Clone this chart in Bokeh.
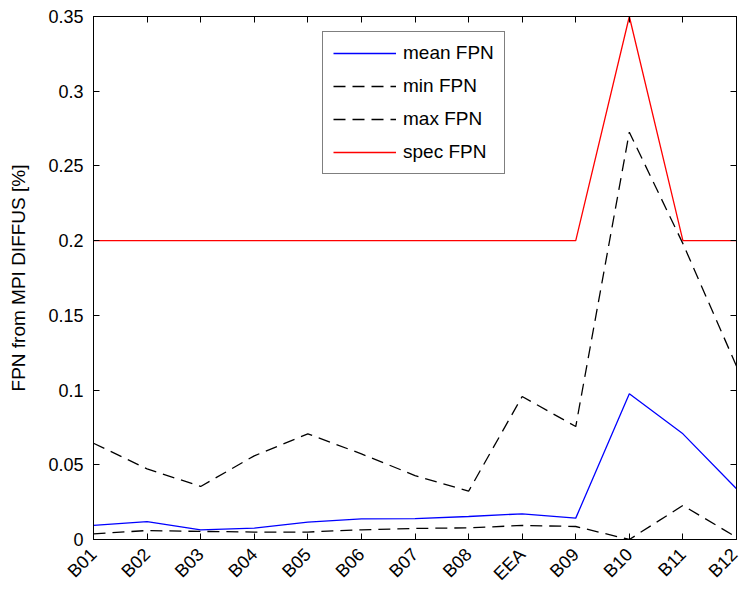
import math
from bokeh.plotting import figure
from bokeh.models import (Range1d, FixedTicker, LinearAxis, Legend, LegendItem,
                          CustomLabelingPolicy)
from bokeh.embed import file_html
from bokeh.resources import INLINE

categories = ["B01", "B02", "B03", "B04", "B05", "B06", "B07", "B08", "EEA", "B09", "B10", "B11", "B12"]
mean_fpn = [0.0094, 0.0120, 0.0065, 0.0076, 0.0116, 0.0138, 0.0140, 0.0154, 0.0172, 0.0143, 0.0975, 0.0707, 0.0340]
min_fpn = [0.0038, 0.0060, 0.0054, 0.0050, 0.0050, 0.0065, 0.0074, 0.0078, 0.0094, 0.0087, 0.0000, 0.0228, 0.0015]
max_fpn = [0.0644, 0.0473, 0.0355, 0.0560, 0.0707, 0.0573, 0.0428, 0.0323, 0.0957, 0.0756, 0.2726, 0.1980, 0.1160]
spec_fpn = [0.20, 0.20, 0.20, 0.20, 0.20, 0.20, 0.20, 0.20, 0.20, 0.20, 0.35, 0.20, 0.20]
y_ticks = [0.0, 0.05, 0.1, 0.15, 0.2, 0.25, 0.3, 0.35]
y_tick_labels = ["0", "0.05", "0.1", "0.15", "0.2", "0.25", "0.3", "0.35"]
y_label = "FPN from MPI DIFFUS [%]"
legend_labels = ["mean FPN", "min FPN", "max FPN", "spec FPN"]

FONT = "Liberation Sans"
FS = "18px"
FS_BIG = "19px"
LW = 1.3

n = len(categories)
x = list(range(n))

p = figure(width=741, height=595, output_backend="svg", toolbar_location=None,
           x_range=Range1d(0, n - 1), y_range=Range1d(0, 0.35),
           min_border_left=93, min_border_right=5, min_border_top=16, min_border_bottom=56,
           background_fill_color="white", border_fill_color="white")
p.outline_line_color = "black"
p.outline_line_width = 1
p.xgrid.visible = False
p.ygrid.visible = False

r_mean = p.line(x, mean_fpn, line_color="#0000ff", line_width=LW)
r_min = p.line(x, min_fpn, line_color="black", line_width=LW, line_dash="12 7")
r_max = p.line(x, max_fpn, line_color="black", line_width=LW, line_dash="12 7")
r_spec = p.line(x, spec_fpn, line_color="#ff0000", line_width=LW)

xt = FixedTicker(ticks=x)
yt = FixedTicker(ticks=y_ticks)


def no_labels():
    return CustomLabelingPolicy(code="return []")


xa = p.xaxis[0]
xa.ticker = xt
xa.major_label_overrides = {i: c for i, c in enumerate(categories)}
xa.major_label_orientation = math.pi / 4
xa.major_label_text_font = FONT
xa.major_label_text_font_size = FS
xa.major_label_text_color = "black"
xa.major_label_standoff = 12

ya = p.yaxis[0]
ya.ticker = yt
ya.major_label_overrides = {v: s for v, s in zip(y_ticks, y_tick_labels)}
ya.major_label_text_font = FONT
ya.major_label_text_font_size = FS
ya.major_label_text_color = "black"
ya.major_label_standoff = 10
ya.axis_label = y_label
ya.axis_label_text_font = FONT
ya.axis_label_text_font_size = FS_BIG
ya.axis_label_text_font_style = "normal"
ya.axis_label_text_color = "black"
ya.axis_label_standoff = 16

for ax in (xa, ya):
    ax.major_tick_in = 6
    ax.major_tick_out = 0
    ax.minor_tick_line_color = None
    ax.axis_line_color = "black"
    ax.major_tick_line_color = "black"

for loc, tk in (("right", yt), ("above", xt)):
    ax = LinearAxis(ticker=tk, major_label_text_font_size="1px", major_label_standoff=0,
                    major_label_policy=no_labels(),
                    major_tick_in=6, major_tick_out=0, minor_tick_line_color=None,
                    axis_line_color="black", major_tick_line_color="black")
    p.add_layout(ax, loc)

legend = Legend(items=[LegendItem(label=legend_labels[0], renderers=[r_mean]),
                       LegendItem(label=legend_labels[1], renderers=[r_min]),
                       LegendItem(label=legend_labels[2], renderers=[r_max]),
                       LegendItem(label=legend_labels[3], renderers=[r_spec])],
                location=(229, 365))
legend.label_text_font = FONT
legend.label_text_font_size = FS_BIG
legend.label_text_color = "black"
legend.glyph_width = 63
legend.glyph_height = 20
legend.label_height = 20
legend.label_standoff = 7
legend.spacing = 11
legend.padding = 10
legend.margin = 0
legend.border_line_color = "black"
legend.border_line_width = 1
legend.background_fill_color = "white"
legend.background_fill_alpha = 1
p.add_layout(legend, "center")

open("out.html", "w").write(file_html(p, INLINE))
